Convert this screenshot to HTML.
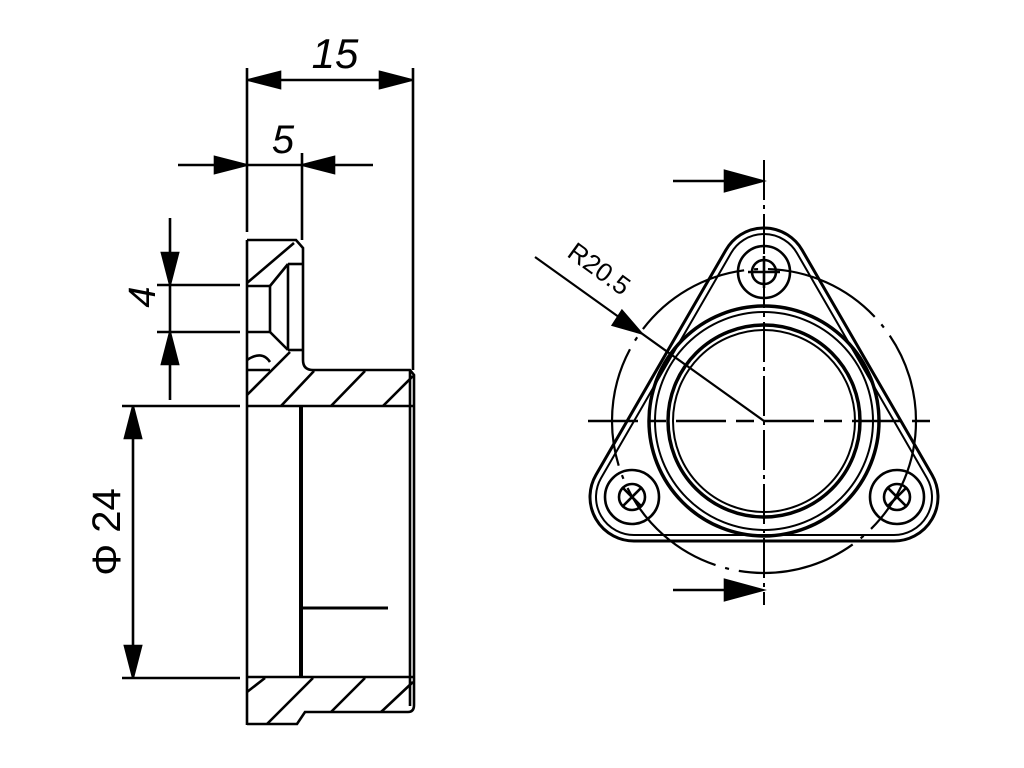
<!DOCTYPE html>
<html><head><meta charset="utf-8"><style>html,body{margin:0;padding:0;background:#fff}svg{display:block}</style></head>
<body>
<svg width="1024" height="768" viewBox="0 0 1024 768" xmlns="http://www.w3.org/2000/svg">
<g stroke="#000" fill="none" stroke-width="2.6">
<!-- dimension 15 -->
<line x1="247" y1="68" x2="247" y2="232"/>
<line x1="413" y1="68" x2="413" y2="370"/>
<line x1="247" y1="80" x2="413" y2="80"/>
<polygon points="249,80 280,72 280,88" fill="#000"/>
<polygon points="411,80 380,72 380,88" fill="#000"/>
<!-- dimension 5 -->
<line x1="178" y1="165" x2="373" y2="165"/>
<line x1="302" y1="153" x2="302" y2="240"/>
<polygon points="246,165 215,157 215,173" fill="#000"/>
<polygon points="303,165 334,157 334,173" fill="#000"/>
<!-- dimension 4 -->
<line x1="170" y1="218" x2="170" y2="400"/>
<line x1="157" y1="285" x2="240" y2="285"/>
<line x1="157" y1="332" x2="240" y2="332"/>
<polygon points="170,284 162,253 178,253" fill="#000"/>
<polygon points="170,333 162,364 178,364" fill="#000"/>
<!-- dimension Ø24 -->
<line x1="133" y1="406" x2="133" y2="678"/>
<line x1="122" y1="406" x2="240" y2="406"/>
<line x1="122" y1="678" x2="240" y2="678"/>
<polygon points="133,407 125,438 141,438" fill="#000"/>
<polygon points="133,677 125,646 141,646" fill="#000"/>

<!-- part outline -->
<line x1="247" y1="240" x2="247" y2="725"/>
<path d="M247,240 L296,240 L303,248 L303,360 Q303,370 313,370 L410,370 L414,375 L414,705"/>
<line x1="410" y1="370" x2="410" y2="706"/>
<path d="M247,724 L297,724 L305,712 L408,712 Q414,712 414,705"/>
<line x1="247" y1="406" x2="414" y2="406"/>
<line x1="247" y1="677" x2="414" y2="677"/>
<line x1="301" y1="406" x2="301" y2="677" stroke-width="4"/>
<line x1="303" y1="608" x2="388" y2="608" stroke-width="3"/>
<!-- counterbore -->
<line x1="247" y1="286" x2="270" y2="286"/>
<line x1="247" y1="332" x2="270" y2="332"/>
<line x1="270" y1="286" x2="270" y2="332"/>
<line x1="270" y1="286" x2="288" y2="264"/>
<line x1="270" y1="332" x2="288" y2="350"/>
<line x1="288" y1="264" x2="288" y2="350"/>
<line x1="288" y1="264" x2="303" y2="264"/>
<line x1="288" y1="350" x2="303" y2="350"/>
<path d="M247,360 Q262,350 270,362"/>
<line x1="247" y1="370" x2="270" y2="370"/>
<!-- hatching top -->
<line x1="247" y1="283" x2="294" y2="243"/>
<line x1="247" y1="395" x2="290" y2="352"/>
<line x1="281" y1="406" x2="314" y2="371"/>
<line x1="331" y1="406" x2="365" y2="371"/>
<line x1="383" y1="406" x2="413" y2="376"/>
<!-- hatching bottom -->
<line x1="247" y1="692" x2="265" y2="678"/>
<line x1="267" y1="724" x2="313" y2="678"/>
<line x1="331" y1="712" x2="365" y2="678"/>
<line x1="381" y1="712" x2="413" y2="682"/>

<!-- ===== RIGHT VIEW ===== -->
<line x1="673" y1="181" x2="740" y2="181"/>
<polygon points="762,181 725,171 725,191" fill="#000"/>
<line x1="673" y1="590" x2="740" y2="590"/>
<polygon points="762,590 725,580 725,600" fill="#000"/>
<line x1="764" y1="160" x2="764" y2="605" stroke-dasharray="40,5,4,5" stroke-width="2"/>
<line x1="588" y1="421" x2="940" y2="421" stroke-dasharray="50,10,18,10" stroke-width="2.6"/>
<circle cx="764" cy="421" r="152" stroke-dasharray="120,10,4,10" stroke-width="2.2"/>
<path d="M725.9,250 A44 44 0 0 1 802.1,250 L932.1,475 A44 44 0 0 1 894,541 L634,541 A44 44 0 0 1 595.9,475 Z" stroke-width="3"/>
<path d="M731.1,253 A38 38 0 0 1 796.9,253 L926.9,478 A38 38 0 0 1 894,535 L634,535 A38 38 0 0 1 601.1,478 Z" stroke-width="2"/>
<circle cx="764" cy="421" r="115" stroke-width="3.5"/>
<circle cx="764" cy="421" r="109" stroke-width="2"/>
<circle cx="764" cy="421" r="96" stroke-width="3.5"/>
<circle cx="764" cy="421" r="91" stroke-width="2"/>
<circle cx="764" cy="272" r="26"/><circle cx="764" cy="272" r="12"/>
<line x1="748" y1="272" x2="780" y2="272"/><line x1="764" y1="256" x2="764" y2="288"/>
<circle cx="632" cy="497" r="27"/><circle cx="632" cy="497" r="13"/>
<line x1="622" y1="487" x2="642" y2="507"/><line x1="642" y1="487" x2="622" y2="507"/>
<circle cx="897" cy="497" r="27"/><circle cx="897" cy="497" r="13"/>
<line x1="887" y1="487" x2="907" y2="507"/><line x1="907" y1="487" x2="887" y2="507"/>
<line x1="535" y1="257" x2="764" y2="421" stroke-width="2.2"/>
<polygon points="641,333 613,325 622,311" fill="#000"/>
</g>
<g font-family="Liberation Sans, sans-serif" fill="#000">
<text x="335" y="68" font-size="42" font-style="italic" text-anchor="middle">15</text>
<text x="283" y="153" font-size="40" font-style="italic" text-anchor="middle">5</text>
<text x="0" y="0" font-size="38" font-style="italic" text-anchor="middle" transform="translate(155,297) rotate(-90)">4</text>
<text x="0" y="0" font-size="40" text-anchor="middle" transform="translate(120,532) rotate(-90)">Φ 24</text>
<text x="0" y="0" font-size="26" text-anchor="middle" transform="translate(594,276) rotate(36)">R20.5</text>
</g>
</svg>
</body></html>
